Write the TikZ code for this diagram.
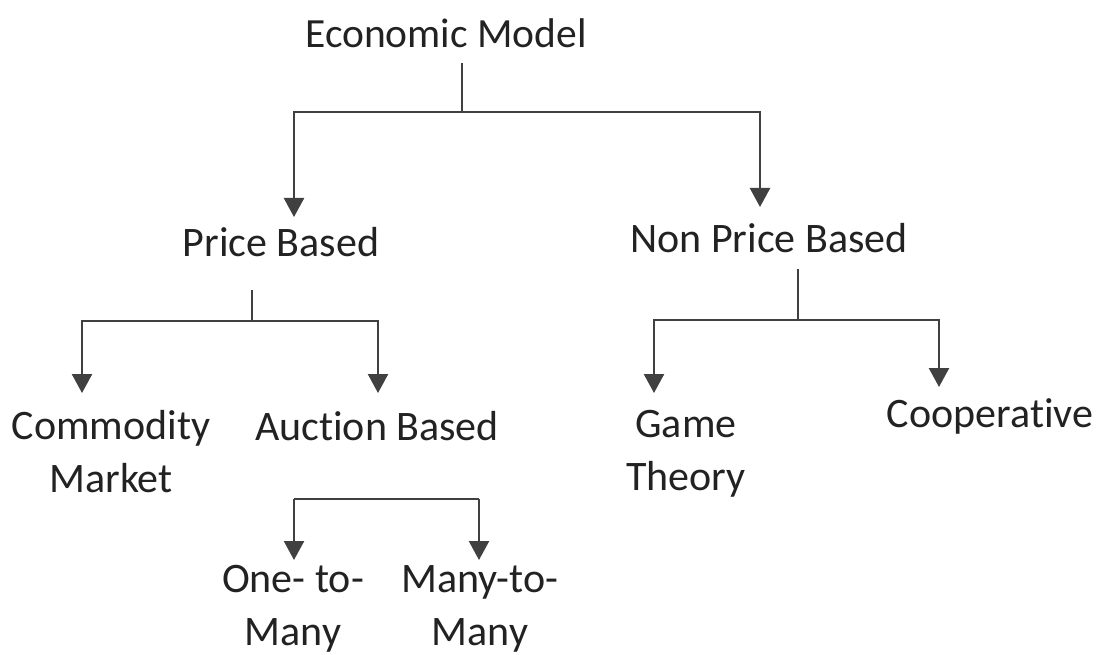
\documentclass[tikz,border=0pt]{standalone}
\usepackage{fontspec}
\setmainfont{Carlito}[Ligatures=NoCommon]
\usetikzlibrary{arrows.meta}
\definecolor{ink}{HTML}{222222}
\definecolor{wirec}{HTML}{404040}
\begin{document}
\begin{tikzpicture}[x=1pt,y=-1pt,
  label/.style={inner sep=0pt, anchor=base, align=center, text=ink,
    font=\fontsize{42}{53}\selectfont},
  wire/.style={draw=wirec, line width=2.4pt},
  arrow/.style={wire, -{Triangle[width=20pt,length=19pt]}}]
\useasboundingbox[fill=white] (0,0) rectangle (1109,655);

% labels (two-line labels are placed by the baseline of their last line)
\node[label, font=\fontsize{41.5}{53}\selectfont] (em) at (446,48) {Economic Model};
\node[label] (pb)   at (281,257) {Price Based};
\node[label] (npb)  at (769,253) {Non Price Based};
\node[label] (cm)   at (111,492) {Commodity\\Market};
\node[label] (ab)   at (377,440) {Auction Based};
\node[label] (o2m)  at (293,645) {One- to-\\Many};
\node[label] (m2m)  at (480,645) {Many-to-\\Many};
\node[label] (gt)   at (686,490) {Game\\Theory};
\node[label] (coop) at (990,427) {Cooperative};

% junction points and arrow tips
\coordinate (emJ) at (462,112);
\coordinate (pbT) at (294,217);
\coordinate (npbT) at (760,207);
\coordinate (pbS) at (252,290);
\coordinate (pbJ) at (252,321);
\coordinate (cmT) at (82,393);
\coordinate (abT) at (378,393);
\coordinate (abL) at (294,499);
\coordinate (abR) at (479,499);
\coordinate (o2mT) at (294,560);
\coordinate (m2mT) at (479,560);
\coordinate (npbS) at (798,269);
\coordinate (npbJ) at (798,320);
\coordinate (gtT) at (654,393);
\coordinate (coopT) at (939,387);

% Economic Model branches
\draw[wire] ([yshift=-15pt]em.south -| emJ) -- (emJ);
\draw[arrow] (emJ) -| (pbT);
\draw[arrow] (emJ) -| (npbT);

% Price Based branches
\draw[wire] (pbS) -- (pbJ);
\draw[arrow] (pbJ) -| (cmT);
\draw[arrow] (pbJ) -| (abT);

% Auction Based branches
\draw[wire] (abL) -- (abR);
\draw[arrow] (abL) -- (o2mT);
\draw[arrow] (abR) -- (m2mT);

% Non Price Based branches
\draw[wire] (npbS) -- (npbJ);
\draw[arrow] (npbJ) -| (gtT);
\draw[arrow] (npbJ) -| (coopT);
\end{tikzpicture}
\end{document}
